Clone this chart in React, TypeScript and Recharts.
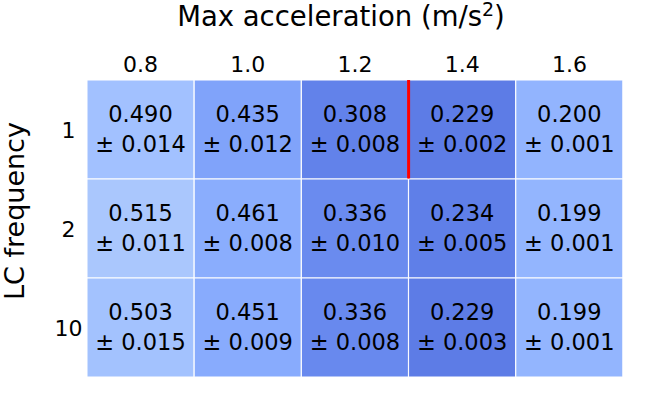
import { Bar, BarChart, Cell, LabelList, Rectangle, XAxis, YAxis } from "recharts";

// Heatmap of mean ± std, one stacked bar per acceleration column,
// one unit-height segment per LC frequency row.
const ACC = ["0.8", "1.0", "1.2", "1.4", "1.6"];
const LC = ["1", "2", "10"];

const MEAN_LC1 = [0.49, 0.435, 0.308, 0.229, 0.2];
const MEAN_LC2 = [0.515, 0.461, 0.336, 0.234, 0.199];
const MEAN_LC10 = [0.503, 0.451, 0.336, 0.229, 0.199];

const STD_LC1 = [0.014, 0.012, 0.008, 0.002, 0.001];
const STD_LC2 = [0.011, 0.008, 0.01, 0.005, 0.001];
const STD_LC10 = [0.015, 0.009, 0.008, 0.003, 0.001];

const COLOR_LC1 = ["#a2c1ff", "#80a3fa", "#6282ea", "#5d7ce6", "#92b4fe"];
const COLOR_LC2 = ["#aac7fd", "#8aadfd", "#6a8bef", "#5f7fe8", "#93b5fe"];
const COLOR_LC10 = ["#a3c2fe", "#88abfd", "#6889ee", "#5d7ce6", "#93b5fe"];

// red marker on the left edge of this cell (row, column)
const MARK_ROW = 0;
const MARK_COL = 3;

const MEANS = [MEAN_LC1, MEAN_LC2, MEAN_LC10];
const STDS = [STD_LC1, STD_LC2, STD_LC10];
const COLORS = [COLOR_LC1, COLOR_LC2, COLOR_LC10];

const FONT = "DejaVu Sans";
const W = 652;
const H = 394;

const data = ACC.map((acc, i) => ({ acc, idx: i, r0: 1, r1: 1, r2: 1 }));

function cellLabel(row: number) {
  return (props: any) => {
    const { x, y, width, height, index } = props;
    const cx = Number(x) + Number(width) / 2;
    const cy = Number(y) + Number(height) / 2;
    return (
      <g>
        <text x={cx} y={cy - 7.5} textAnchor="middle" fontSize={22.5} fontFamily={FONT} fill="#000">
          {MEANS[row][index].toFixed(3)}
        </text>
        <text x={cx} y={cy + 22} textAnchor="middle" fontSize={22.5} fontFamily={FONT} fill="#000">
          {`± ${STDS[row][index].toFixed(3)}`}
        </text>
      </g>
    );
  };
}

function cellShape(row: number) {
  return (props: any) => {
    const { x, y, height, index } = props;
    const top = Math.min(y, y + height);
    const bottom = Math.max(y, y + height);
    return (
      <g>
        <Rectangle {...props} />
        {row === MARK_ROW && index === MARK_COL && (
          <line x1={x} x2={x} y1={top} y2={bottom} stroke="#ff0000" strokeWidth={3} />
        )}
      </g>
    );
  };
}

function XTick(props: any) {
  const { x, payload } = props;
  return (
    <text x={x} y={71.5} textAnchor="middle" fontSize={22} fontFamily={FONT} fill="#000">
      {payload.value}
    </text>
  );
}

function YTick(props: any) {
  const { y, payload } = props;
  return (
    <text x={68.5} y={y + 8} textAnchor="middle" fontSize={22} fontFamily={FONT} fill="#000">
      {LC[Math.floor(payload.value)]}
    </text>
  );
}

export default function App() {
  return (
    <div style={{ position: "absolute", left: 0, top: 0, width: W, height: H, background: "#fff" }}>
      <BarChart
        width={W}
        height={H}
        data={data}
        margin={{ top: 0, right: 29, bottom: 17, left: 0 }}
        barCategoryGap={0}
      >
        <XAxis
          dataKey="acc"
          orientation="top"
          height={80}
          tick={<XTick />}
          tickLine={false}
          axisLine={false}
          interval={0}
        />
        <YAxis
          type="number"
          domain={[0, 3]}
          reversed
          ticks={[0.5, 1.5, 2.5]}
          width={87}
          tick={<YTick />}
          tickLine={false}
          axisLine={false}
          interval={0}
        />
        {[0, 1, 2].map((row) => (
          <Bar
            key={row}
            dataKey={`r${row}`}
            stackId="heat"
            stroke="#fff"
            strokeWidth={1}
            shape={cellShape(row)}
            isAnimationActive={false}
          >
            {data.map((d) => (
              <Cell key={d.acc} fill={COLORS[row][d.idx]} />
            ))}
            <LabelList dataKey={`r${row}`} content={cellLabel(row)} />
          </Bar>
        ))}
      </BarChart>
      <svg width={W} height={H} style={{ position: "absolute", left: 0, top: 0, pointerEvents: "none" }}>
        <text x={341} y={26} textAnchor="middle" fontSize={27.5} fontFamily={FONT} fill="#000">
          Max acceleration (m/s
          <tspan dy={-10} fontSize={19}>
            2
          </tspan>
          <tspan dy={10}>)</tspan>
        </text>
        <text
          x={24}
          y={211}
          textAnchor="middle"
          fontSize={27}
          fontFamily={FONT}
          fill="#000"
          transform="rotate(-90 24 211)"
        >
          LC frequency
        </text>
      </svg>
    </div>
  );
}
